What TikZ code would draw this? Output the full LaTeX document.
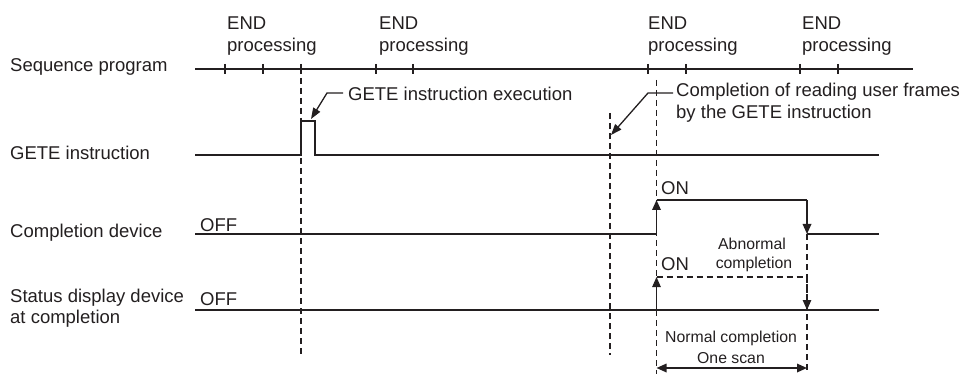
\documentclass[tikz,border=0pt]{standalone}
\usepackage{fontspec}
\setmainfont{Liberation Sans}
\usetikzlibrary{arrows.meta}
\definecolor{ink}{HTML}{231F20}
\begin{document}
\begin{tikzpicture}[x=1pt,y=-1pt,
  lbl/.style={font=\fontsize{18.5}{22}\selectfont, inner sep=0pt, text=ink, anchor=base west},
  small/.style={font=\fontsize{15.8}{19}\selectfont, inner sep=0pt, text=ink, anchor=base},
  thinln/.style={line width=1.3pt, draw=ink},
  midln/.style={line width=1.7pt, draw=ink},
  thickln/.style={line width=2.4pt, draw=ink},
  dashln/.style={line width=1.1pt, draw=ink, dash pattern=on 6pt off 4pt},
  tip/.style={-{Triangle[length=10pt,width=8.5pt]}},
  leader/.style={line width=1.3pt, draw=ink, -{Triangle[length=11pt,width=8pt]}},
  both/.style={{Triangle[length=10pt,width=8.5pt]}-{Triangle[length=10pt,width=8.5pt]}}
]
\useasboundingbox (0,0) rectangle (969,374);

% left labels
\node[lbl] (lseq) at (10,72) {Sequence program};
\node[lbl] (lgete) at (10,160) {GETE instruction};
\node[lbl] (lcomp) at (10,237) {Completion device};
\node[lbl] (lstat1) at (10,302) {Status display device};
\node[lbl] (lstat2) at (10,323) {at completion};

% END processing labels
\node[lbl] (e1) at (227,30) {END};
\node[lbl] (p1) at (227,52) {processing};
\node[lbl] (e2) at (379,30) {END};
\node[lbl] (p2) at (379,52) {processing};
\node[lbl] (e3) at (648,30) {END};
\node[lbl] (p3) at (648,52) {processing};
\node[lbl] (e4) at (802,30) {END};
\node[lbl] (p4) at (802,52) {processing};

% sequence program line
\coordinate (s0) at (195,69);
\coordinate (s1) at (913,69);
\draw[thickln] (s0) -- (s1);
\foreach \x in {225,263,301,376,413,648,686,800,838}
  \draw[line width=1.6pt, draw=ink] (\x,64) -- (\x,74);

% dashed verticals
\coordinate (d1a) at (301,78);   \coordinate (d1b) at (301,355);
\coordinate (d2a) at (610,113);  \coordinate (d2b) at (610,355);
\coordinate (d3a) at (656.5,80); \coordinate (d3b) at (656.5,374);
\coordinate (d4a) at (807,234);  \coordinate (d4b) at (807,374);
\draw[dashln] (d1a) -- (d1b);
\draw[dashln] (d2a) -- (d2b);
\draw[dashln] (d3a) -- (d3b);
\draw[dashln] (d4a) -- (d4b);

% GETE instruction waveform
\coordinate (g0) at (195,155);
\coordinate (g1) at (301,155);
\coordinate (g2) at (301,121);
\coordinate (g3) at (315,121);
\coordinate (g4) at (315,155);
\coordinate (g5) at (879,155);
\draw[thinln] (g0) -- (g1) -- (g2) -- (g3) -- (g4) -- (g5);

% GETE instruction execution leader
\node[lbl] (texec) at (348,101) {GETE instruction execution};
\coordinate (x0) at (343,93);
\coordinate (x1) at (327,93);
\coordinate (x2) at (311,119);
\draw[leader] (x0) -- (x1) -- (x2);

% completion of reading leader
\node[lbl] (tread1) at (676,97) {Completion of reading user frames};
\node[lbl] (tread2) at (676,119) {by the GETE instruction};
\coordinate (r0) at (673,93);
\coordinate (r1) at (648,93);
\coordinate (r2) at (611,135);
\draw[leader] (r0) -- (r1) -- (r2);

% completion device waveform
\coordinate (c0) at (195,234);
\coordinate (c1) at (656.5,234);
\coordinate (c2) at (656.5,200);
\coordinate (c3) at (807,200);
\coordinate (c4) at (807,234);
\coordinate (c5) at (879,234);
\draw[midln] (c0) -- (c1);
\draw[midln, tip] (c1) -- (c2);
\draw[midln] (c2) -- (c3);
\draw[midln, tip] (c3) -- (c4);
\draw[midln] (c4) -- (c5);
\node[lbl] (off1) at (200,232) {OFF};
\node[lbl] (on1) at (661,195) {ON};

% status display device waveform
\coordinate (st0) at (195,310);
\coordinate (st1) at (879,310);
\draw[thickln] (st0) -- (st1);
\coordinate (a0) at (656.5,310);
\coordinate (a1) at (656.5,277);
\coordinate (a2) at (807,277);
\coordinate (a3) at (807,310);
\draw[dashln, tip] (a0) -- (a1);
\draw[dashln] (a1) -- (a2);
\draw[dashln, tip] (a2) -- (a3);
\node[lbl] (off2) at (200,305) {OFF};
\node[lbl] (on2) at (661,270) {ON};
\node[small] (abn1) at (752,249) {Abnormal};
\node[small] (abn2) at (754,268) {completion};

% one scan
\node[small] (nrm) at (731,342) {Normal completion};
\node[small] (scan) at (731,363) {One scan};
\coordinate (o0) at (656.5,368);
\coordinate (o1) at (807,368);
\draw[midln, both] (o0) -- (o1);
\end{tikzpicture}
\end{document}
